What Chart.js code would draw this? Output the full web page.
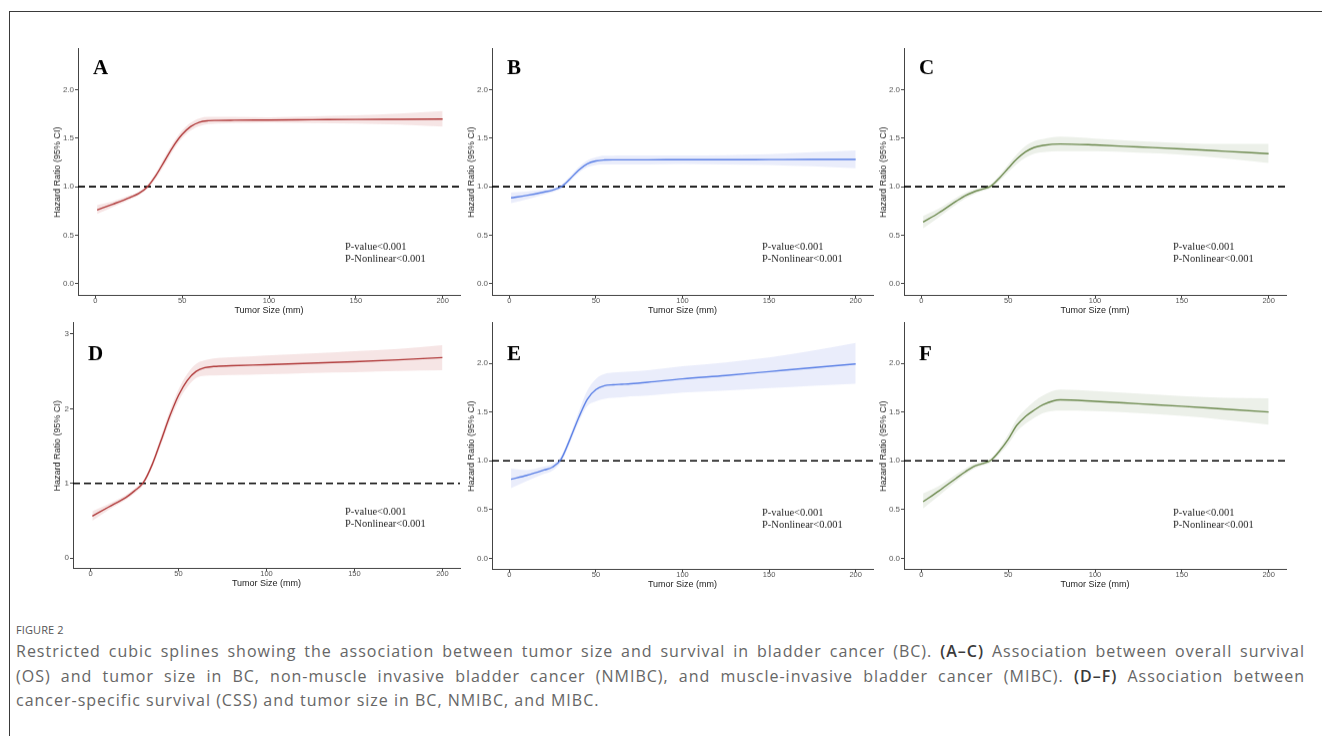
<!DOCTYPE html>
<html>
<head>
<meta charset="utf-8">
<script src="https://cdn.jsdelivr.net/npm/chart.js@4.4.0/dist/chart.umd.min.js"></script>
<style>
  html, body { margin: 0; padding: 0; background: #fff; }
  body { width: 1322px; height: 736px; position: relative; overflow: hidden; }
  #frame { position: absolute; left: 9px; top: 11px; right: -2px; bottom: -2px;
           border-top: 1px solid #3a3a3a; border-left: 1px solid #3a3a3a; }
  canvas { position: absolute; }
  #caption { position: absolute; left: 16px; top: 621px; width: 1289px;
             font-family: "Open Sans", "Noto Sans", sans-serif; color: #666; }
  #caption .fig { font-size: 11px; letter-spacing: 0.1px; line-height: 18px; color: #555; }
  #caption .ln { font-size: 16px; letter-spacing: 1.0px; line-height: 24.5px; white-space: nowrap; }
  #caption .j { text-align: justify; text-align-last: justify; white-space: normal; }
  #caption b { font-weight: 600; color: #3a3a3a; }
</style>
</head>
<body>
<div id="frame"></div>

<canvas id="pA"></canvas>
<canvas id="pB"></canvas>
<canvas id="pC"></canvas>
<canvas id="pD"></canvas>
<canvas id="pE"></canvas>
<canvas id="pF"></canvas>

<div id="caption">
  <div class="fig">FIGURE 2</div>
  <div class="ln j">Restricted cubic splines showing the association between tumor size and survival in bladder cancer (BC). <b>(A–C)</b> Association between overall survival</div>
  <div class="ln j">(OS) and tumor size in BC, non-muscle invasive bladder cancer (NMIBC), and muscle-invasive bladder cancer (MIBC). <b>(D–F)</b> Association between</div>
  <div class="ln">cancer-specific survival (CSS) and tumor size in BC, NMIBC, and MIBC.</div>
</div>

<script>
var sizes = [1, 10, 20, 25, 30, 35, 40, 45, 50, 55, 60, 65, 70, 80, 100, 125, 150, 175, 200];

// A - OS, BC
var hrA   = [0.76, 0.82, 0.89, 0.93, 1.00, 1.12, 1.27, 1.42, 1.54, 1.62, 1.665, 1.68, 1.683, 1.685, 1.687, 1.69, 1.693, 1.695, 1.697];
var lowA  = [0.72, 0.79, 0.87, 0.91, 0.98, 1.09, 1.23, 1.38, 1.50, 1.58, 1.625, 1.645, 1.65, 1.655, 1.66, 1.655, 1.65, 1.64, 1.62];
var upA   = [0.81, 0.85, 0.91, 0.95, 1.02, 1.15, 1.31, 1.46, 1.58, 1.66, 1.705, 1.72, 1.72, 1.72, 1.715, 1.725, 1.735, 1.755, 1.78];

// B - OS, NMIBC
var hrB   = [0.885, 0.91, 0.945, 0.965, 1.00, 1.08, 1.17, 1.235, 1.265, 1.275, 1.277, 1.277, 1.277, 1.277, 1.278, 1.278, 1.279, 1.28, 1.28];
var lowB  = [0.83, 0.87, 0.92, 0.945, 0.98, 1.055, 1.14, 1.20, 1.225, 1.23, 1.23, 1.23, 1.23, 1.23, 1.235, 1.23, 1.225, 1.21, 1.19];
var upB   = [0.94, 0.95, 0.97, 0.985, 1.02, 1.105, 1.20, 1.27, 1.305, 1.32, 1.32, 1.322, 1.322, 1.322, 1.322, 1.326, 1.335, 1.355, 1.375];

// C - OS, MIBC
var hrC   = [0.635, 0.73, 0.85, 0.905, 0.945, 0.975, 1.005, 1.09, 1.19, 1.285, 1.36, 1.405, 1.425, 1.44, 1.43, 1.41, 1.39, 1.365, 1.34];
var lowC  = [0.57, 0.685, 0.815, 0.875, 0.92, 0.955, 0.985, 1.06, 1.15, 1.235, 1.30, 1.34, 1.355, 1.365, 1.365, 1.35, 1.33, 1.29, 1.245];
var upC   = [0.70, 0.775, 0.885, 0.935, 0.97, 0.995, 1.025, 1.12, 1.23, 1.335, 1.42, 1.47, 1.49, 1.515, 1.495, 1.47, 1.45, 1.44, 1.44];

// D - CSS, BC
var hrD   = [0.56, 0.68, 0.81, 0.90, 1.01, 1.25, 1.57, 1.90, 2.18, 2.38, 2.50, 2.55, 2.565, 2.575, 2.59, 2.61, 2.63, 2.655, 2.685];
var lowD  = [0.50, 0.64, 0.78, 0.87, 0.98, 1.21, 1.51, 1.83, 2.10, 2.29, 2.41, 2.44, 2.445, 2.45, 2.46, 2.48, 2.49, 2.505, 2.515];
var upD   = [0.625, 0.72, 0.84, 0.93, 1.04, 1.29, 1.63, 1.97, 2.26, 2.47, 2.60, 2.65, 2.675, 2.69, 2.715, 2.74, 2.77, 2.80, 2.85];

// E - CSS, NMIBC
var hrE   = [0.81, 0.85, 0.905, 0.935, 1.02, 1.22, 1.44, 1.63, 1.73, 1.77, 1.78, 1.785, 1.79, 1.805, 1.84, 1.875, 1.915, 1.955, 1.993];
var lowE  = [0.72, 0.79, 0.865, 0.90, 0.99, 1.18, 1.39, 1.56, 1.61, 1.635, 1.645, 1.65, 1.66, 1.67, 1.70, 1.72, 1.745, 1.77, 1.79];
var upE   = [0.92, 0.905, 0.94, 0.965, 1.05, 1.26, 1.50, 1.72, 1.84, 1.89, 1.905, 1.91, 1.915, 1.93, 1.97, 2.01, 2.06, 2.13, 2.21];

// F - CSS, MIBC
var hrF   = [0.58, 0.69, 0.82, 0.884, 0.94, 0.97, 1.005, 1.10, 1.22, 1.365, 1.455, 1.52, 1.575, 1.625, 1.61, 1.585, 1.56, 1.53, 1.50];
var lowF  = [0.51, 0.64, 0.785, 0.855, 0.915, 0.95, 0.985, 1.07, 1.17, 1.30, 1.38, 1.44, 1.49, 1.515, 1.51, 1.49, 1.46, 1.42, 1.37];
var upF   = [0.665, 0.74, 0.86, 0.915, 0.965, 0.99, 1.025, 1.13, 1.27, 1.43, 1.53, 1.61, 1.67, 1.73, 1.715, 1.69, 1.665, 1.645, 1.64];

var xTicks = [0, 50, 100, 150, 200];
var yTicksHalf = [0, 0.5, 1.0, 1.5, 2.0];
var yTicksInt = [0, 1, 2, 3];
var refHR = 1;
var pTexts = ["P-value<0.001", "P-Nonlinear<0.001"];

var RED = "#b03a3a", RED_BAND = "rgba(178,40,40,0.12)";
var BLUE = "#5b80e6", BLUE_BAND = "rgba(80,110,225,0.12)";
var GREEN = "#6d8a4f", GREEN_BAND = "rgba(100,130,70,0.12)";

var SANS = '"Liberation Sans", Arial, sans-serif';
var SERIF = '"Liberation Serif", "Times New Roman", serif';

// panel boxes: plot area in page pixels
var panels = [
  { id: "pA", letter: "A", hr: hrA, low: lowA, up: upA, col: RED, band: RED_BAND,
    yMin: -0.12, yMax: 2.42, yTicks: yTicksHalf, dec: 1,
    box: { l: 78, t: 47, r: 460, b: 295 }, yw: 26, letterDy: 25, textDx: 267, textDy: 197 },
  { id: "pB", letter: "B", hr: hrB, low: lowB, up: upB, col: BLUE, band: BLUE_BAND,
    yMin: -0.12, yMax: 2.42, yTicks: yTicksHalf, dec: 1,
    box: { l: 492, t: 47, r: 873, b: 295 }, yw: 26, letterDy: 25, textDx: 270, textDy: 197 },
  { id: "pC", letter: "C", hr: hrC, low: lowC, up: upC, col: GREEN, band: GREEN_BAND,
    yMin: -0.12, yMax: 2.42, yTicks: yTicksHalf, dec: 1,
    box: { l: 904, t: 47, r: 1286, b: 295 }, yw: 26, letterDy: 25, textDx: 269, textDy: 197 },
  { id: "pD", letter: "D", hr: hrD, low: lowD, up: upD, col: RED, band: RED_BAND,
    yMin: -0.14, yMax: 3.15, yTicks: yTicksInt, dec: 0,
    box: { l: 73, t: 321, r: 460, b: 568 }, yw: 21, letterDy: 37, textDx: 272, textDy: 188 },
  { id: "pE", letter: "E", hr: hrE, low: lowE, up: upE, col: BLUE, band: BLUE_BAND,
    yMin: -0.115, yMax: 2.415, yTicks: yTicksHalf, dec: 1,
    box: { l: 492, t: 321, r: 873, b: 569 }, yw: 26, letterDy: 37, textDx: 270, textDy: 189 },
  { id: "pF", letter: "F", hr: hrF, low: lowF, up: upF, col: GREEN, band: GREEN_BAND,
    yMin: -0.115, yMax: 2.415, yTicks: yTicksHalf, dec: 1,
    box: { l: 904, t: 321, r: 1286, b: 569 }, yw: 26, letterDy: 37, textDx: 269, textDy: 189 }
];

var PAD_T = 4, PAD_R = 4, XH = 20.5;

function pts(ys) {
  return sizes.map(function (x, i) { return { x: x, y: ys[i] }; });
}

var panelText = {
  id: "panelText",
  afterDraw: function (chart, args, opts) {
    var a = chart.chartArea, ctx = chart.ctx;
    ctx.save();
    ctx.fillStyle = "#000";
    ctx.textBaseline = "alphabetic";
    ctx.textAlign = "left";
    ctx.font = "bold 21px " + SERIF;
    ctx.fillText(opts.letter, a.left + 15, a.top + opts.letterDy);
    ctx.fillStyle = "#222";
    ctx.font = "10.5px " + SERIF;
    ctx.textBaseline = "middle";
    pTexts.forEach(function (t, i) {
      ctx.fillText(t, a.left + opts.textDx, a.top + opts.textDy + i * 12.5);
    });
    ctx.restore();
  }
};

panels.forEach(function (p) {
  var cv = document.getElementById(p.id);
  var w = p.yw + (p.box.r - p.box.l) + PAD_R;
  var h = PAD_T + (p.box.b - p.box.t) + XH;
  cv.width = w; cv.height = h;
  cv.style.left = (p.box.l - p.yw) + "px";
  cv.style.top = (p.box.t - PAD_T) + "px";
  cv.style.width = w + "px"; cv.style.height = h + "px";

  new Chart(cv.getContext("2d"), {
    type: "line",
    data: {
      datasets: [
        { data: pts(p.up), borderWidth: 0, pointRadius: 0, fill: "+1",
          backgroundColor: p.band, cubicInterpolationMode: "monotone", order: 3 },
        { data: pts(p.low), borderWidth: 0, pointRadius: 0, fill: false,
          cubicInterpolationMode: "monotone", order: 3 },
        { data: [{ x: -10, y: refHR }, { x: 210, y: refHR }], borderColor: "#000",
          borderWidth: 1.6, borderDash: [7, 4], pointRadius: 0, fill: false, order: 2 },
        { data: pts(p.hr), borderColor: p.col, borderWidth: 1.4, pointRadius: 0, fill: false,
          cubicInterpolationMode: "monotone", order: 1 }
      ]
    },
    options: {
      responsive: false,
      animation: false,
      devicePixelRatio: 1,
      layout: { padding: { top: PAD_T, right: PAD_R, left: 0, bottom: 0 } },
      plugins: {
        legend: { display: false },
        tooltip: { enabled: false },
        panelText: { letter: p.letter, letterDy: p.letterDy, textDx: p.textDx, textDy: p.textDy }
      },
      scales: {
        x: {
          type: "linear", min: -10, max: 210,
          afterBuildTicks: function (s) { s.ticks = xTicks.map(function (v) { return { value: v }; }); },
          afterFit: function (s) { s.height = XH; },
          border: { display: true, color: "#444", width: 1 },
          grid: { display: true, drawOnChartArea: false, drawTicks: true, tickLength: 3, color: "#444" },
          ticks: { color: "#555", padding: -2, maxRotation: 0, font: { family: SANS, size: 7.5 } },
          title: { display: true, text: "Tumor Size (mm)", color: "#222", padding: 0,
                   font: { family: SANS, size: 9 } }
        },
        y: {
          min: p.yMin, max: p.yMax,
          afterBuildTicks: function (s) { s.ticks = p.yTicks.map(function (v) { return { value: v }; }); },
          afterFit: function (s) { s.width = p.yw; },
          border: { display: true, color: "#444", width: 1 },
          grid: { display: true, drawOnChartArea: false, drawTicks: true, tickLength: 3, color: "#444" },
          ticks: { color: "#555", padding: 1, font: { family: SANS, size: 8 },
                   callback: function (v) { return Number(v).toFixed(p.dec); } },
          title: { display: true, text: "Hazard Ratio (95% CI)", color: "#222", padding: 0,
                   font: { family: SANS, size: 9 } }
        }
      }
    },
    plugins: [panelText]
  });
});
</script>
</body>
</html>
